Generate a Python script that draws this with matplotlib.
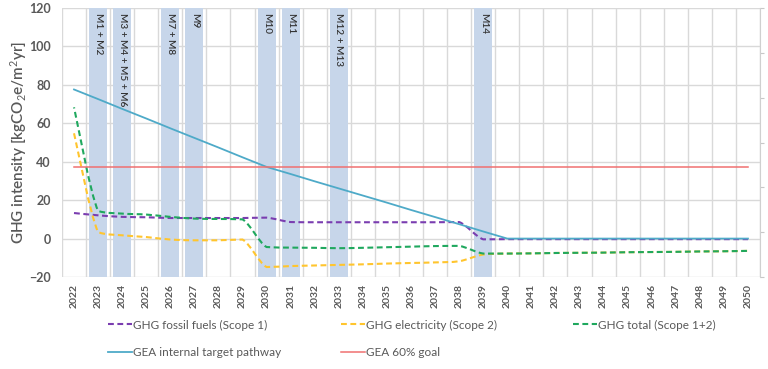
import matplotlib
matplotlib.use("Agg")
import matplotlib.pyplot as plt
import numpy as np
from matplotlib.lines import Line2D
from matplotlib.path import Path
from matplotlib.patches import PathPatch

# ── data ─────────────────────────────────────────────────────────────────────
years = np.arange(2022, 2051)

ghg_fossil = [13.3, 12.1, 11.3, 11.1, 10.7, 10.7, 10.7, 10.7, 10.9, 8.6,
              8.5, 8.5, 8.5, 8.5, 8.5, 8.5, 8.6, -0.4, -0.3, -0.3,
              -0.3, -0.3, -0.3, -0.3, -0.3, -0.3, -0.3, -0.3, -0.3]
ghg_elec = [54.8, 3.4, 1.7, 0.8, -0.5, -0.9, -0.9, -0.5, -14.8, -14.3,
            -14.0, -13.7, -13.4, -13.0, -12.7, -12.4, -11.8, -8.3, -7.8, -7.7,
            -7.5, -7.4, -7.3, -7.1, -7.0, -6.9, -6.7, -6.6, -6.4]
ghg_total = [68.3, 14.4, 13.0, 12.5, 11.3, 10.4, 10.2, 10.0, -4.4, -4.7,
             -4.8, -5.0, -4.8, -4.5, -4.2, -3.9, -3.8, -7.8, -7.8, -7.7,
             -7.5, -7.4, -7.3, -7.1, -7.0, -6.9, -6.7, -6.6, -6.4]
target_pathway = [77.6, 72.6, 67.5, 62.5, 57.4, 52.4, 47.4, 42.3, 37.3, 33.6,
                  29.8, 26.1, 22.4, 18.7, 14.9, 11.2, 7.5, 3.7, 0.0, 0.0,
                  0.0, 0.0, 0.0, 0.0, 0.0, 0.0, 0.0, 0.0, 0.0]
goal_60 = [37.3] * len(years)

measure_years = [2023, 2024, 2026, 2027, 2030, 2031, 2033, 2039]
measure_labels = ["M1 + M2", "M3 + M4 + M5 + M6", "M7 + M8", "M9",
                  "M10", "M11", "M12 + M13", "M14"]

# ── style ────────────────────────────────────────────────────────────────────
plt.rcParams["font.family"] = ["Lato", "DejaVu Sans"]
plt.rcParams["mathtext.fontset"] = "custom"
plt.rcParams["mathtext.rm"] = "Lato"
plt.rcParams["mathtext.it"] = "Lato:italic"
plt.rcParams["mathtext.bf"] = "Lato:bold"

TXT = "#595959"
GRID = "#d9d9d9"
C_FOSSIL = "#7a3db0"
C_ELEC = "#ffc52e"
C_TOTAL = "#1fa85e"
C_PATH = "#4eaac8"
C_GOAL = "#f07070"
C_BAND = "#c7d6ea"
DASH = (0, (2.8, 1.7))
DASH_SHIFTED = (2.25, (2.8, 1.7))   # so yellow peeks through where they overlap


def smooth_path(x, y):
    """Bezier through the points like Excel's smoothed line, no overshoot."""
    pts = np.column_stack([x, y]).astype(float)
    n = len(pts)
    verts = [pts[0]]
    codes = [Path.MOVETO]
    for i in range(n - 1):
        p0 = pts[max(i - 1, 0)]
        p1 = pts[i]
        p2 = pts[i + 1]
        p3 = pts[min(i + 2, n - 1)]
        c1 = p1 + (p2 - p0) / 6.0
        c2 = p2 - (p3 - p1) / 6.0
        lo, hi = min(p1[1], p2[1]), max(p1[1], p2[1])
        c1[1] = np.clip(c1[1], lo, hi)
        c2[1] = np.clip(c2[1], lo, hi)
        verts += [c1, c2, p2]
        codes += [Path.CURVE4] * 3
    return Path(verts, codes)


fig = plt.figure(figsize=(7.68, 3.69), dpi=100)
ax = fig.add_axes([0.0807, 0.2493, 0.9089, 0.7290])
ax.set_xlim(2021.5, 2050.5)
ax.set_ylim(-20, 120)

# grid
ax.set_xticks(years)
ax.set_xticks(np.arange(2021.5, 2051.0, 1.0), minor=True)
ax.set_yticks(np.arange(-20, 121, 20))
ax.grid(which="minor", axis="x", color=GRID, lw=1.0, zorder=0)
ax.grid(which="major", axis="y", color=GRID, lw=1.0, zorder=0)
ax.set_axisbelow(True)
for s in ax.spines.values():
    s.set_visible(False)
ax.tick_params(which="both", length=0)
ax.tick_params(axis="y", pad=8, labelsize=9, labelcolor=TXT)
ax.tick_params(axis="x", pad=5, labelsize=7.5, labelcolor=TXT, rotation=90)
for lab in ax.get_xticklabels() + ax.get_yticklabels():
    lab.set_fontweight("bold")

# measure bands
ax.bar(measure_years, 140, bottom=-20, width=0.75, color=C_BAND, zorder=1)
for yr, lab in zip(measure_years, measure_labels):
    ax.text(yr, 117.5, lab, rotation=270, ha="center", va="top",
            fontsize=7.2, color="#333333", fontweight="semibold", zorder=2)

# series
for vals, col, ls in [(ghg_fossil, C_FOSSIL, DASH), (ghg_elec, C_ELEC, DASH),
                      (ghg_total, C_TOTAL, DASH_SHIFTED)]:
    ax.add_patch(PathPatch(smooth_path(years, vals), fill=False, edgecolor=col,
                           lw=1.5, linestyle=ls, zorder=3))
ax.plot(years, target_pathway, color=C_PATH, lw=1.3, zorder=4)
ax.plot(years, goal_60, color=C_GOAL, lw=1.1, zorder=5)

# secondary axis ticks on the right
ax2 = ax.twinx()
ax2.set_ylim(0, 6)
ax2.set_yticks(range(7))
ax2.set_yticklabels([])
for k, s in ax2.spines.items():
    s.set_visible(k == "right")
ax2.spines["right"].set_color("#d0d0d0")
ax2.tick_params(axis="y", length=3, color="#c8c8c8", direction="out")

fig.text(0.024, 0.614, r"GHG intensity [kgCO$_2$e/m$^2$yr]", rotation=90,
         ha="center", va="center", fontsize=11, color=TXT, fontweight="semibold")

# legend, laid out like the Excel one
entries = [
    (Line2D([], [], color=C_FOSSIL, lw=1.5, ls=DASH), "GHG fossil fuels (Scope 1)", 108, 325),
    (Line2D([], [], color=C_ELEC, lw=1.5, ls=DASH), "GHG electricity (Scope 2)", 341, 325),
    (Line2D([], [], color=C_TOTAL, lw=1.5, ls=DASH), "GHG total (Scope 1+2)", 573, 325),
    (Line2D([], [], color=C_PATH, lw=1.3), "GEA internal target pathway", 108, 353),
    (Line2D([], [], color=C_GOAL, lw=1.1), "GEA 60% goal", 341, 353),
]
for h, lab, px, py in entries:
    fig.legend([h], [lab], loc="center left", bbox_to_anchor=(px / 768, 1 - py / 369),
               frameon=False, borderpad=0, borderaxespad=0, handlelength=2.0,
               handletextpad=0.15, fontsize=8.5, labelcolor=TXT)

fig.savefig("out.png", dpi=100)
